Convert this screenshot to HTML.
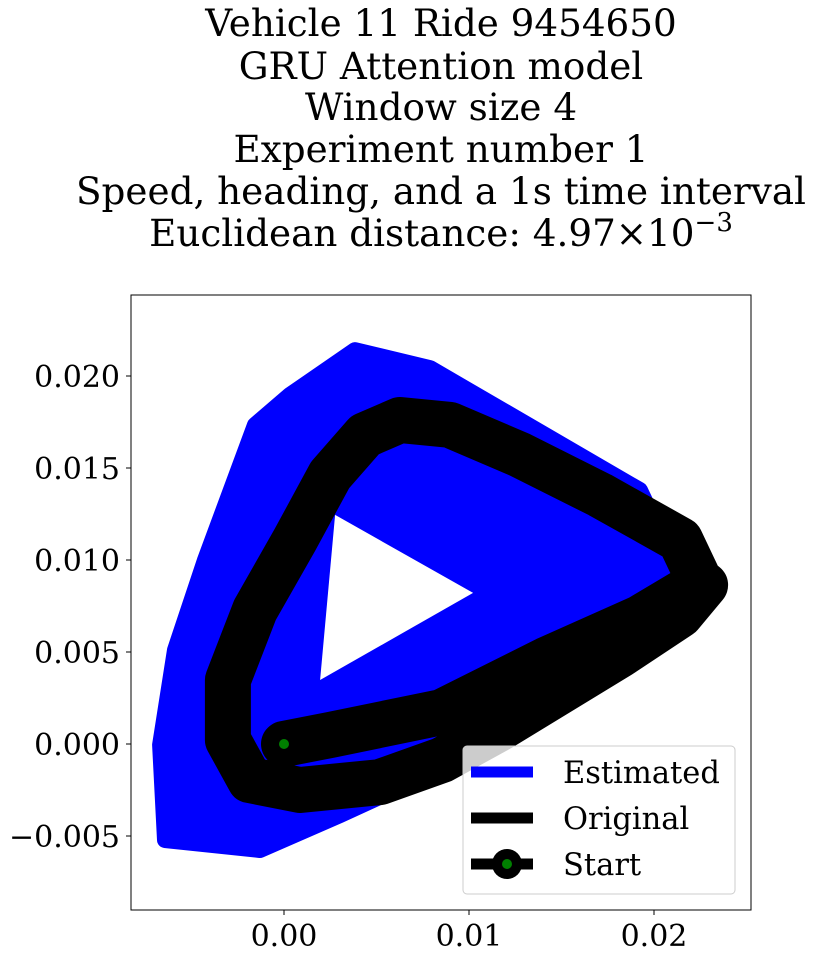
<!DOCTYPE html>
<html><head><meta charset="utf-8"><style>
body{margin:0;background:#fff;}
svg{display:block;font-family:"DejaVu Serif","Liberation Serif",serif;}
</style></head><body>
<svg id="chart" width="814" height="957" viewBox="0 0 814 957" xmlns="http://www.w3.org/2000/svg">
<g font-size="37.3" text-anchor="middle" fill="#000">
<text x="441" y="36">Vehicle 11 Ride 9454650</text>
<text x="441" y="79">GRU Attention model</text>
<text x="441" y="120">Window size 4</text>
<text x="441" y="162">Experiment number 1</text>
<text x="441" y="204">Speed, heading, and a 1s time interval</text>
<text x="441" y="246">Euclidean distance: 4.97×10<tspan font-size="26" dy="-15">−3</tspan></text>
</g>
<defs><clipPath id="clip"><rect x="131" y="295" width="620" height="615"/></clipPath></defs>
<g id="plot" clip-path="url(#clip)"></g>
<rect x="131" y="295" width="620" height="615" fill="none" stroke="#000" stroke-width="1"/>
<g id="axes" font-size="30" fill="#000"></g>
<g>
<rect x="463" y="746" width="272" height="148" rx="4" fill="#fff" fill-opacity="0.8" stroke="#ccc"/>
<line x1="471" y1="772" x2="533" y2="772" stroke="#0000ff" stroke-width="11"/>
<text x="563" y="783" font-size="30.5">Estimated</text>
<line x1="471" y1="818" x2="533" y2="818" stroke="#000" stroke-width="11"/>
<text x="563" y="829" font-size="30.5">Original</text>
<line x1="471" y1="864" x2="533" y2="864" stroke="#000" stroke-width="11"/>
<circle cx="507" cy="864" r="15" fill="#000"/>
<circle cx="507" cy="864" r="5" fill="#008000"/>
<text x="563" y="875" font-size="30.5">Start</text>
</g>
</svg>
<script>
const xTicks=[0,0.01,0.02];
const xTickLabels=["0.00","0.01","0.02"];
const yTicks=[0.02,0.015,0.01,0.005,0,-0.005];
const yTickLabels=["0.020","0.015","0.010","0.005","0.000","−0.005"];
const estX=[-0.00670,-0.00643,-0.00130,0.00303,0.00951,0.01492,0.02141,0.01924,0.00789,0.00384,0.00032,-0.00157,-0.00427,-0.00589,-0.00670];
const estY=[-0.00005,-0.00522,-0.00576,-0.00386,-0.00087,0.00239,0.00918,0.01380,0.02043,0.02141,0.01897,0.01734,0.01000,0.00511,-0.00005];
const holeX=[0.00276,0.01022,0.00195];
const holeY=[0.01245,0.00821,0.00348];
const origX=[0,0.00249,0.00854,0.01416,0.01924,0.02249,0.02141,0.01708,0.01276,0.00897,0.00627,0.00438,0.00249,0.00059,-0.00157,-0.00303,-0.00303,-0.00184,0.00086,0.00519,0.00854,0.01168,0.01416,0.01816,0.02141,0.02276];
const origY=[0,0.00049,0.00174,0.00457,0.00685,0.00880,0.01109,0.01353,0.01571,0.01734,0.01761,0.01679,0.01462,0.01109,0.00728,0.00348,0.00022,-0.00196,-0.00250,-0.00207,-0.00087,0.00087,0.00239,0.00484,0.00701,0.00864];
const startX=0, startY=0;
const sx=v=>284+v*18500, sy=v=>744-v*18400;
const NS="http://www.w3.org/2000/svg";
const plot=document.getElementById('plot'), axes=document.getElementById('axes');
function pts(xs,ys){return xs.map((x,i)=>sx(x).toFixed(1)+','+sy(ys[i]).toFixed(1)).join(' ');}
let e=document.createElementNS(NS,'polygon');
e.setAttribute('points',pts(estX,estY));
e.setAttribute('fill','#0000ff');e.setAttribute('stroke','#0000ff');e.setAttribute('stroke-width','16');e.setAttribute('stroke-linejoin','round');


plot.appendChild(e);
let h=document.createElementNS(NS,'polygon');
h.setAttribute('points',pts(holeX,holeY));h.setAttribute('fill','#fff');


plot.appendChild(h);
let o=document.createElementNS(NS,'polyline');
o.setAttribute('points',pts(origX,origY));
o.setAttribute('fill','none');o.setAttribute('stroke','#000');o.setAttribute('stroke-width','46');o.setAttribute('stroke-linejoin','round');o.setAttribute('stroke-linecap','round');


plot.appendChild(o);
let c=document.createElementNS(NS,'circle');
c.setAttribute('cx',sx(startX));c.setAttribute('cy',sy(startY));c.setAttribute('r','5');c.setAttribute('fill','#008000');


plot.appendChild(c);
xTicks.forEach((v,i)=>{
 let l=document.createElementNS(NS,'line');
 l.setAttribute('x1',sx(v));l.setAttribute('x2',sx(v));l.setAttribute('y1',910);l.setAttribute('y2',915);l.setAttribute('stroke','#000');
 
 
 axes.appendChild(l);
 let t=document.createElementNS(NS,'text');
 t.setAttribute('x',sx(v));t.setAttribute('y',946);t.setAttribute('text-anchor','middle');t.textContent=xTickLabels[i];
 
 
 axes.appendChild(t);
});
yTicks.forEach((v,i)=>{
 let l=document.createElementNS(NS,'line');
 l.setAttribute('x1',126);l.setAttribute('x2',131);l.setAttribute('y1',sy(v));l.setAttribute('y2',sy(v));l.setAttribute('stroke','#000');
 
 
 axes.appendChild(l);
 let t=document.createElementNS(NS,'text');
 t.setAttribute('x',120);t.setAttribute('y',sy(v)+11);t.setAttribute('text-anchor','end');t.textContent=yTickLabels[i];
 
 
 axes.appendChild(t);
});
</script>
</body></html>
